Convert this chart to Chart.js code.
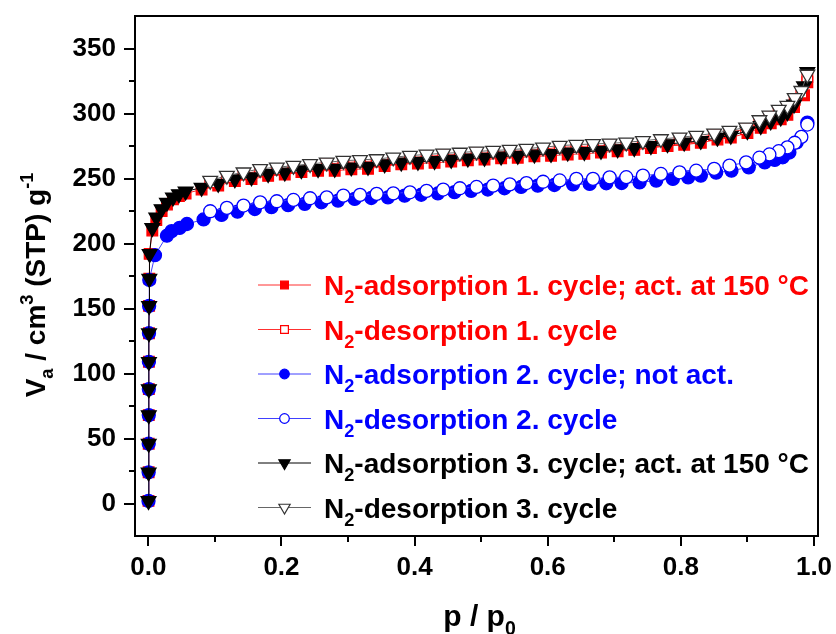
<!DOCTYPE html>
<html>
<head>
<meta charset="utf-8">
<script src="https://cdn.jsdelivr.net/npm/chart.js@4.4.0/dist/chart.umd.min.js"></script>
<style>
  body { margin: 0; background: #fff; }
  #wrap { width: 836px; height: 634px; }
</style>
</head>
<body>
<div id="wrap"><canvas id="iso" width="836" height="634"></canvas></div>
<script>
// ------------------------------
// Isotherm data
// ------------------------------

// relative pressure p/p0, adsorption branch (cycle 1 and 3)
const pAds = [0.0003, 0.0005, 0.0006, 0.0007, 0.0008, 0.0009, 0.001, 0.0012, 0.0015, 0.002,
    0.006, 0.012, 0.02, 0.028, 0.037, 0.046, 0.056,
    0.08, 0.105, 0.13, 0.155, 0.18, 0.205, 0.23, 0.255, 0.28, 0.305, 0.33, 0.355, 0.38,
    0.405, 0.43, 0.455, 0.48, 0.505, 0.53, 0.555, 0.58, 0.605, 0.63,
    0.655, 0.68, 0.705, 0.73, 0.755, 0.78, 0.805, 0.83, 0.855,
    0.875, 0.9, 0.92, 0.935, 0.95, 0.96, 0.97, 0.985, 0.99];

const adsCycle1 = [2, 24, 46, 68, 88, 109, 131, 152, 173, 192,
    210, 218, 225, 230, 234, 236.5, 238.5,
    241.5, 244.5, 248, 249.5, 252, 253, 255, 256, 256, 257, 257.5, 259.5, 261,
    261.5, 262, 263, 264, 264.5, 265.5, 266, 267, 267.5, 268.5,
    269, 270, 271, 272, 273.5, 275, 276, 277.5, 280,
    281.5, 285, 289, 292.5, 295.5, 299, 305, 314, 324];

const adsCycle3 = [2, 24, 46, 68, 88, 109, 131, 152, 173, 192,
    212, 220, 226.5, 231.5, 235.5, 238, 240,
    243, 246, 249.5, 251, 253.5, 254.7, 256.5, 257.4, 257.5, 258.6, 259.1, 261, 262.4,
    263, 263.5, 264.5, 265.5, 266, 267, 267.5, 268.5, 269, 270,
    270.5, 271.4, 272.5, 273.5, 275, 276.5, 277.7, 279, 281.5,
    283, 286.5, 290.5, 294, 297, 301, 307, 321, 332];

// adsorption branch, cycle 2 (not activated)
const pAds2 = [0.0003, 0.0005, 0.0006, 0.0007, 0.0008, 0.0009, 0.001, 0.0012, 0.0015,
    0.01, 0.028, 0.035, 0.047, 0.058,
    0.083, 0.11, 0.134, 0.16, 0.185, 0.21, 0.235, 0.26, 0.285, 0.31, 0.335, 0.36, 0.385,
    0.41, 0.435, 0.46, 0.485, 0.51, 0.535, 0.56, 0.585, 0.61,
    0.638, 0.663, 0.688, 0.711, 0.738, 0.763, 0.788, 0.811, 0.83, 0.853, 0.876,
    0.902, 0.926, 0.941, 0.953, 0.963, 0.974, 0.99];

const adsCycle2 = [2, 24, 46, 68, 88, 109, 131, 152, 172,
    191, 206, 209.5, 212, 215,
    218.5, 222, 224.5, 226.5, 228, 229.5, 230.5, 231.7, 233, 234.3, 235, 235.5, 236.8,
    237.5, 238.5, 239.5, 240.5, 241.5, 242.5, 243.5, 244.5, 245,
    245.5, 245.8, 246.3, 246.5, 247, 248.4, 249.7, 250.9, 252.2, 254.5, 256,
    258.6, 262.4, 264.3, 266.3, 270, 277.8, 293];

// desorption branch (all cycles)
const pDes = [0.99, 0.981, 0.971, 0.96, 0.947, 0.933, 0.918, 0.898, 0.873, 0.85,
    0.823, 0.798, 0.77, 0.743, 0.718, 0.693, 0.668, 0.643, 0.618, 0.593,
    0.568, 0.543, 0.518, 0.493, 0.468, 0.443, 0.418, 0.393, 0.368, 0.343,
    0.318, 0.293, 0.268, 0.243, 0.218, 0.193, 0.168, 0.143, 0.118, 0.093];

const desCycle1 = [328, 316, 310.5, 305, 301.5, 297, 293.5, 288, 285.5, 283.5,
    281.5, 280, 279, 277.5, 276.5, 275.5, 275, 274.5, 274, 272.5,
    271.5, 270.7, 270, 269.3, 268.5, 268, 267, 266, 265, 263.5,
    263, 262.2, 261, 260, 258.5, 257, 256, 253.5, 251, 247];

const desCycle2 = [291.5, 282, 277.5, 274, 271, 268.5, 266, 262.4, 259.9, 257.4,
    256, 254.7, 253.5, 252.2, 251, 250.9, 249.7, 249.7, 248.5, 247.5,
    246.5, 245.5, 244.5, 243.5, 242.5, 241.5, 240.5, 239.4, 238.6, 238.2,
    237.4, 236.8, 235.5, 234.8, 233.5, 232.5, 231.7, 229.2, 227.4, 224.8];

const desCycle3 = [330, 317.5, 312, 306, 303, 298.5, 295, 289.3, 286.8, 284.7,
    283, 281.6, 280.4, 279, 277.8, 277, 276.6, 276, 275.3, 274,
    273, 272.2, 271.5, 270.8, 270, 269.3, 268.5, 267.6, 266.3, 265,
    264.3, 263.7, 262.4, 261.2, 259.9, 258.6, 257.4, 254.8, 252.2, 248.4];

// axis ticks
const xTicks = [0, 0.1, 0.2, 0.3, 0.4, 0.5, 0.6, 0.7, 0.8, 0.9, 1.0];
const xLabels = [0, 0.2, 0.4, 0.6, 0.8, 1.0];
const yTicks = [0, 25, 50, 75, 100, 125, 150, 175, 200, 225, 250, 275, 300, 325, 350];
const yLabels = [0, 50, 100, 150, 200, 250, 300, 350];

// legend texts (N + subscript 2 + rest)
const legendTexts = [
    "-adsorption 1. cycle; act. at 150 °C",
    "-desorption 1. cycle",
    "-adsorption 2. cycle; not act.",
    "-desorption 2. cycle",
    "-adsorption 3. cycle; act. at 150 °C",
    "-desorption 3. cycle"
];

// ------------------------------
// Helpers
// ------------------------------

const FONT = '"Liberation Sans", Arial, sans-serif';

function pts(xs, ys) {
    return xs.map((x, i) => ({ x: x, y: ys[i] }));
}

function near(v, list) {
    return list.some(t => Math.abs(t - v) < 1e-6);
}

// draw text made of parts, some in sub/superscript
function richWidth(ctx, parts, size) {
    let w = 0;
    parts.forEach(p => {
        const s = p.sub || p.sup ? size * 0.65 : size;
        ctx.font = "bold " + s + "px " + FONT;
        w += ctx.measureText(p.t).width;
    });
    return w;
}

function drawRich(ctx, parts, x, y, size, color) {
    ctx.fillStyle = color;
    ctx.textBaseline = "alphabetic";
    ctx.textAlign = "left";
    parts.forEach(p => {
        const s = p.sub || p.sup ? size * 0.65 : size;
        let dy = 0;
        if (p.sub) dy = size * 0.3;
        if (p.sup) dy = -size * 0.42;
        ctx.font = "bold " + s + "px " + FONT;
        ctx.fillText(p.t, x, y + dy);
        x += ctx.measureText(p.t).width;
    });
}

// ------------------------------
// Series
// ------------------------------

const series = [
    { label: legendTexts[0], data: pts(pAds, adsCycle1), line: "#ff3030", text: "#ff0000",
      style: "rect", r: 7.5, fill: "#ff0000", stroke: "#ff0000", lr: 5.5 },
    { label: legendTexts[1], data: pts(pDes, desCycle1), line: "#ff3030", text: "#ff0000",
      style: "rect", r: 7.5, fill: "#ffffff", stroke: "#ff0000", lr: 5.5 },
    { label: legendTexts[2], data: pts(pAds2, adsCycle2), line: "#4040ff", text: "#0000ff",
      style: "circle", r: 6.5, fill: "#0000ff", stroke: "#0000ff", lr: 4.8 },
    { label: legendTexts[3], data: pts(pDes, desCycle2), line: "#4040ff", text: "#0000ff",
      style: "circle", r: 6.5, fill: "#ffffff", stroke: "#0000ff", lr: 4.8 },
    { label: legendTexts[4], data: pts(pAds, adsCycle3), line: "#000000", text: "#000000",
      style: "triangle", r: 8.5, fill: "#000000", stroke: "#000000", lr: 6.5 },
    { label: legendTexts[5], data: pts(pDes, desCycle3), line: "#666666", text: "#000000",
      style: "triangle", r: 8.5, fill: "#ffffff", stroke: "#333333", lr: 6.5 }
];

const datasets = series.map((s, i) => ({
    label: s.label,
    data: s.data,
    showLine: true,
    borderColor: s.line,
    borderWidth: 1,
    pointStyle: s.style,
    pointRadius: s.r,
    pointRotation: s.style === "triangle" ? 180 : 0,
    pointBackgroundColor: s.fill,
    pointBorderColor: s.stroke,
    pointBorderWidth: 1.3,
    order: series.length - i
}));

// ------------------------------
// Frame, ticks, titles and legend
// ------------------------------

const decorations = {
    id: "decorations",
    afterDraw(chart) {
        const ctx = chart.ctx;
        const a = chart.chartArea;
        const xs = chart.scales.x;
        const ys = chart.scales.y;
        ctx.save();

        // frame
        ctx.strokeStyle = "#000";
        ctx.lineWidth = 2;
        ctx.strokeRect(a.left, a.top, a.right - a.left, a.bottom - a.top);

        // outward tick marks
        ctx.lineWidth = 2;
        ctx.beginPath();
        xTicks.forEach(v => {
            const px = Math.round(xs.getPixelForValue(v));
            const len = near(v, xLabels) ? 10 : 6;
            ctx.moveTo(px, a.bottom);
            ctx.lineTo(px, a.bottom + len);
        });
        yTicks.forEach(v => {
            const py = Math.round(ys.getPixelForValue(v));
            const len = near(v, yLabels) ? 11 : 6;
            ctx.moveTo(a.left, py);
            ctx.lineTo(a.left - len, py);
        });
        ctx.stroke();

        // x title: p / p0
        const xt = [{ t: "p / p" }, { t: "0", sub: true }];
        const xw = richWidth(ctx, xt, 30);
        drawRich(ctx, xt, (a.left + a.right) / 2 - xw / 2 + 3, 626, 30, "#000");

        // y title: Va / cm3 (STP) g-1
        const yt = [{ t: "V" }, { t: "a", sub: true }, { t: " / cm" }, { t: "3", sup: true },
            { t: " (STP) g" }, { t: "-1", sup: true }];
        const yw = richWidth(ctx, yt, 28);
        ctx.save();
        ctx.translate(45, 285);
        ctx.rotate(-Math.PI / 2);
        drawRich(ctx, yt, -yw / 2, 0, 28, "#000");
        ctx.restore();

        // legend
        series.forEach((s, i) => {
            const cy = 285 + i * 44.5;
            ctx.strokeStyle = s.line;
            ctx.lineWidth = 1;
            ctx.beginPath();
            ctx.moveTo(258, cy);
            ctx.lineTo(311, cy);
            ctx.stroke();
            ctx.fillStyle = s.fill;
            ctx.strokeStyle = s.stroke;
            ctx.lineWidth = 1.2;
            Chart.helpers.drawPoint(ctx, {
                pointStyle: s.style,
                radius: s.lr,
                rotation: s.style === "triangle" ? 180 : 0,
                borderWidth: 1.2
            }, 284.5, cy);
            drawRich(ctx, [{ t: "N" }, { t: "2", sub: true }, { t: s.label }],
                324, cy + 10, 28, s.text);
        });

        ctx.restore();
    }
};

// ------------------------------
// Chart
// ------------------------------

new Chart(document.getElementById("iso"), {
    type: "scatter",
    data: { datasets: datasets },
    options: {
        responsive: false,
        animation: false,
        layout: { padding: { top: 16, right: 18, left: 0, bottom: 0 } },
        plugins: {
            legend: { display: false },
            tooltip: { enabled: false }
        },
        scales: {
            x: {
                type: "linear",
                min: -0.02,
                max: 1.006,
                afterFit: s => { s.height = 98; s.paddingLeft = 0; s.paddingRight = 0; },
                afterBuildTicks: s => { s.ticks = xTicks.map(v => ({ value: v })); },
                grid: { display: false },
                border: { display: false },
                ticks: {
                    padding: 8,
                    maxRotation: 0,
                    autoSkip: false,
                    color: "#000",
                    font: { family: FONT, size: 26, weight: "bold" },
                    callback: v => near(v, xLabels) ? v.toFixed(1) : ""
                }
            },
            y: {
                type: "linear",
                min: -25,
                max: 375,
                afterFit: s => { s.width = 135; s.paddingTop = 0; s.paddingBottom = 0; },
                afterBuildTicks: s => { s.ticks = yTicks.map(v => ({ value: v })); },
                grid: { display: false },
                border: { display: false },
                ticks: {
                    padding: 11,
                    autoSkip: false,
                    color: "#000",
                    font: { family: FONT, size: 26, weight: "bold" },
                    callback: v => near(v, yLabels) ? String(v) : ""
                }
            }
        }
    },
    plugins: [decorations]
});
</script>
</body>
</html>
